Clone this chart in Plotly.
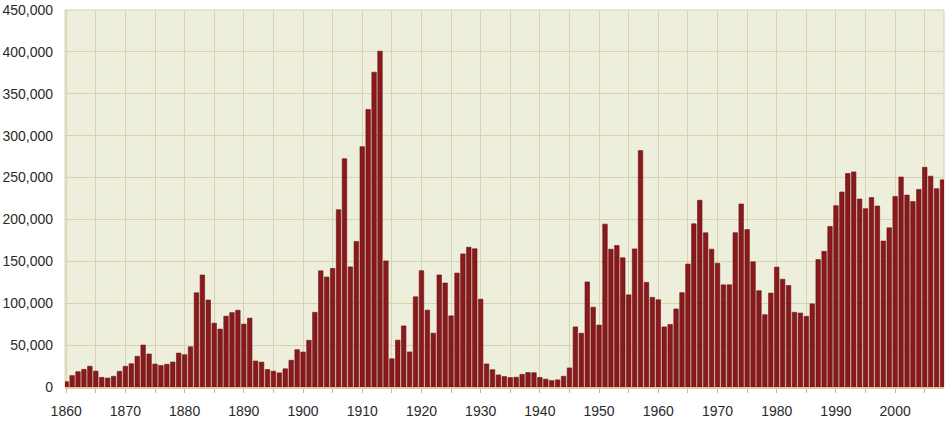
import plotly.graph_objects as go

years = list(range(1860, 2009))
immigrants = [
    6276, 13589, 18294, 21000, 24779, 18958, 11427, 10666, 12765, 18630,
    24706, 27773, 36578, 50050, 39373, 27382, 25633, 27082, 29807, 40492,
    38505, 47991, 112458, 133624, 103824, 76169, 69152, 84526, 88766, 91600,
    75067, 82165, 30996, 29633, 20829, 18790, 16835, 21716, 31900, 44543,
    41681, 55747, 89102, 138660, 131252, 141465, 211653, 272409, 143326, 173694,
    286839, 331288, 375756, 400870, 150484, 33665, 55914, 72910, 41845, 107698,
    138824, 91728, 64224, 133729, 124164, 84907, 135982, 158886, 166783, 164993,
    104806, 27530, 20591, 14382, 12476, 11277, 11643, 15101, 17244, 16994,
    11324, 9329, 7576, 8504, 12801, 22722, 71719, 64127, 125414, 95217,
    73912, 194391, 164498, 168868, 154227, 109946, 164857, 282164, 124851, 106928,
    104111, 71698, 74586, 93151, 112606, 146758, 194743, 222876, 183974, 164531,
    147713, 121900, 122006, 184200, 218465, 187881, 149429, 114914, 86313, 112096,
    143117, 128618, 121147, 89157, 88239, 84302, 99219, 152098, 161929, 191556,
    216452, 232744, 254817, 256741, 224364, 212864, 226071, 216035, 174195, 189955,
    227458, 250639, 229049, 221349, 235823, 262240, 251640, 236758, 247243,
]
x_ticks = list(range(1860, 2001, 10))
y_ticks = list(range(0, 450001, 50000))

fig = go.Figure(
    go.Bar(
        x=years,
        y=immigrants,
        marker=dict(color="#8A191C", line=dict(color="#6A1114", width=0.6)),
        hoverinfo="x+y",
    )
)

fig.update_layout(
    width=950,
    height=422,
    margin=dict(l=65, r=6, t=10, b=35, autoexpand=False),
    paper_bgcolor="white",
    plot_bgcolor="#EEEEDC",
    bargap=0.24,
    showlegend=False,
    font=dict(family="Liberation Sans, Arial, sans-serif", size=14, color="#2a2a2a"),
)

fig.update_xaxes(
    automargin=False,
    range=[1859.8, 2008.25],
    tickvals=x_ticks,
    ticktext=[str(v) for v in x_ticks],
    showgrid=True,
    gridcolor="#D6D4AE",
    gridwidth=1,
    minor=dict(dtick=5, tick0=1860, showgrid=True, gridcolor="#D6D4AE", gridwidth=1,
               ticks="outside", ticklen=4, tickcolor="#B8B8B0"),
    ticks="outside",
    ticklen=4,
    tickcolor="#B8B8B0",
    ticklabelstandoff=6,
    showline=True,
    linecolor="#E8C894",
    linewidth=2,
    mirror=False,
    zeroline=False,
)

fig.update_yaxes(
    automargin=False,
    range=[0, 450000],
    tickvals=y_ticks,
    tickformat=",d",
    showgrid=True,
    gridcolor="#D6D4AE",
    gridwidth=1,
    ticks="",
    ticklabelstandoff=11,
    showline=False,
    zeroline=False,
)

# thin border on the left/top/right of the plot area
fig.add_shape(type="rect", xref="paper", yref="paper", x0=0, y0=0, x1=1, y1=1,
              line=dict(color="#D6D4AE", width=1), layer="below")

fig.write_html(
    "out.html",
    config={"displayModeBar": False},
    post_script="document.body.style.margin='0';document.body.style.overflow='hidden';",
)
